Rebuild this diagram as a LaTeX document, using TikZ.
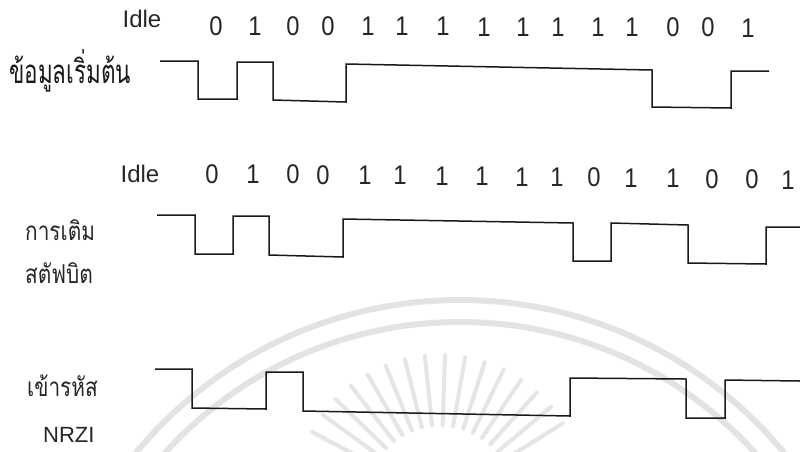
\documentclass[tikz,border=0pt]{standalone}
\usepackage{fontspec}
\newfontfamily\latf{Liberation Sans}
\newfontfamily\digf[FakeStretch=0.88]{Liberation Sans}
\newfontfamily\thaif[Script=Thai,FakeStretch=0.8]{Loma}
\newfontfamily\thaic[Script=Thai,FakeStretch=0.68]{Loma}
\begin{document}
\begin{tikzpicture}[x=1pt,y=-1pt,
  wave/.style={line width=1.5pt, line join=miter, black!90},
  bitlbl/.style={font=\digf\fontsize{27}{27}\selectfont, anchor=base, inner sep=0pt, text=black!85},
  idlelbl/.style={font=\latf\fontsize{24}{24}\selectfont, anchor=base, inner sep=0pt, text=black!85},
  thlbl/.style={font=\thaif\fontsize{26}{26}\selectfont, anchor=base west, inner sep=0pt, text=black!85},
  thlblc/.style={font=\thaic\fontsize{33}{33}\selectfont, anchor=base west, inner sep=0pt, text=black!90},
  nrzlbl/.style={font=\latf\fontsize{22}{22}\selectfont, anchor=base west, inner sep=0pt, text=black!85},
  wmark/.style={gray!22, line width=6pt},
  wray/.style={gray!20, line width=4pt, line cap=round}]
\useasboundingbox (0,0) rectangle (800,451);
\fill[white] (0,0) rectangle (800,451);

% ---- faint watermark of the scan
\begin{scope}
\clip (0,0) rectangle (800,451);
\draw[wmark] (460,720) circle[radius=420];
\draw[wmark] (460,720) circle[radius=398];
\foreach \a in {28,36,...,152}{
  \draw[wray] (440,500) ++(\a:-75) -- ++(\a:-70);
}
\end{scope}

% ---- row 1 : original data
\node[thlblc] (t1) at (9,83) {ข้อมูลเริ่มต้น};
\node[idlelbl] (i1) at (142,27) {Idle};
\foreach \x/\b [count=\k] in {216/0,255/1,293/0,328/0,368/1,402/1,443/1,484/1,523/1,558/1,598/1,632/1,673/0,708/0,748/1}{
  \pgfmathsetmacro\yy{35+(\x-216)*2/530}
  \node[bitlbl] (a\k) at (\x,\yy) {\b};
}
\draw[wave] (160,61) -- (198,61) -- (198,99) -- (237,99) -- (237,62) -- (273,62) -- (273,100)
  -- (346,102) -- (346,64) -- (652,70) -- (652,107) -- (731,108) -- (731,71) -- (769,71);

% ---- row 2 : bit stuffing
\node[thlbl] (t2a) at (25,240) {การเติม};
\node[thlbl] (t2b) at (25,283) {สตัฟบิต};
\node[idlelbl] (i2) at (140,182) {Idle};
\foreach \x/\b [count=\k] in {212/0,253/1,293/0,323/0,365/1,400/1,442/1,482/1,522/1,557/1,594/0,631/1,673/1,712/0,752/0,788/1}{
  \pgfmathsetmacro\yy{183+(\x-212)*6/576}
  \node[bitlbl] (b\k) at (\x,\yy) {\b};
}
\draw[wave] (157,215) -- (195,215) -- (195,254) -- (233,254) -- (233,216) -- (269,216) -- (269,255)
  -- (343,257) -- (343,219) -- (573,223) -- (573,261) -- (611,261) -- (611,223) -- (688,225)
  -- (688,263) -- (766,264) -- (766,227) -- (800,227);

% ---- row 3 : NRZI
\node[thlbl] (t3) at (27,396) {เข้ารหัส};
\node[nrzlbl] (n3) at (43,442) {NRZI};
\draw[wave] (155,369) -- (192,369) -- (192,408) -- (266,409) -- (266,372) -- (303,372) -- (303,411)
  -- (570,416) -- (570,378) -- (686,379) -- (686,418) -- (725,418) -- (725,380) -- (800,381);
\end{tikzpicture}
\end{document}
